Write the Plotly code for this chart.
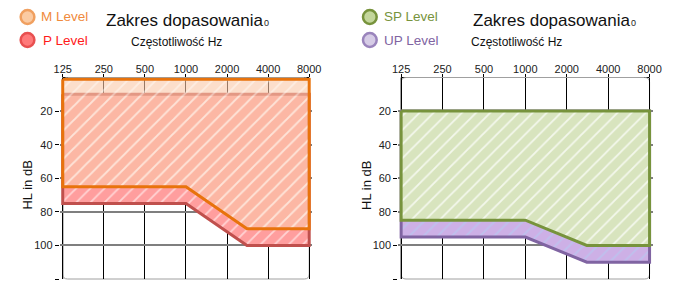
import math
import plotly.graph_objects as go

# ---------------- data ----------------
freq_ticks = [125, 250, 500, 1000, 2000, 4000, 8000]
freq_tick_labels = ["125", "250", "500", "1000", "2000", "4000", "8000"]
db_ticks = [20, 40, 60, 80, 100, 120]

band_freqs = [125, 1000, 2800, 8000]

m_top = 1
m_bottom = [65, 65, 90, 90]
p_top = 10
p_bottom = [75, 75, 100, 100]

sp_top = 20
sp_bottom = [85, 85, 100, 100]
up_top = 20
up_bottom = [95, 95, 110, 110]

title_text = "Zakres dopasowania"
title_suffix = "0"
x_title = "Częstotliwość Hz"
y_title = "HL in dB"

W, H = 684, 283
FONT = "Liberation Sans, Arial, sans-serif"


def poly(top, bottom):
    xs = [band_freqs[0], band_freqs[-1]] + band_freqs[::-1] + [band_freqs[0]]
    ys = [top, top] + bottom[::-1] + [top]
    return xs, ys


def px(x):
    return x / W


def py(y):
    return 1 - y / H


fig = go.Figure()

panels = [
    dict(x0=58, x1=310),
    dict(x0=404, x1=658),
]
top_px, bot_px = 77.5, 279

ext = 3  # px extension so outline is not clipped


def add_band(top, bottom, line_color, fill_bg, xa, ya, width=3, fg="white", fgop=0.55):
    xs, ys = poly(top, bottom)
    fig.add_trace(go.Scatter(
        x=xs, y=ys, xaxis=xa, yaxis=ya, mode="lines", fill="toself",
        fillcolor=fill_bg,
        fillpattern=dict(shape="/", fgcolor=fg, bgcolor=fill_bg, size=10,
                         solidity=0.18, fgopacity=fgop),
        line=dict(color=line_color, width=width),
        hoverinfo="skip", showlegend=False))


add_band(p_top, p_bottom, "#C0504D", "#FF9E9E", "x", "y")
add_band(m_top, m_bottom, "#E8730C", "rgba(250,200,168,0.6)", "x", "y", fgop=0.45)
add_band(up_top, up_bottom, "#8064A2", "#CDB0E6", "x2", "y2", fg="#B8C8F0", fgop=0.7)
add_band(sp_top, sp_bottom, "#77933C", "#D8E4BE", "x2", "y2", fgop=0.7)

layout = dict(
    width=W, height=H, margin=dict(l=0, r=0, t=0, b=0),
    paper_bgcolor="white", plot_bgcolor="white",
    font=dict(family=FONT, size=11, color="#222"),
    showlegend=False,
)

shapes = []
annotations = []
for i, p in enumerate(panels):
    suffix = "" if i == 0 else str(i + 1)
    ppo = (p["x1"] - p["x0"]) / math.log2(8000 / 125)
    dlog = ext / ppo * math.log10(2)
    layout["xaxis" + suffix] = dict(
        type="log",
        domain=[px(p["x0"] - ext), px(p["x1"] + ext)],
        range=[math.log10(125) - dlog, math.log10(8000) + dlog],
        side="top", tickvals=freq_ticks, ticktext=freq_tick_labels,
        ticks="outside", ticklen=3, tickcolor="#000",
        ticklabelstandoff=-4,
        showline=False, showgrid=True, gridcolor="#000", gridwidth=1,
        zeroline=False, tickfont=dict(size=11, color="#222"),
        anchor="y" + suffix, fixedrange=True,
    )
    layout["yaxis" + suffix] = dict(
        domain=[py(bot_px), py(top_px)],
        range=[120, 0], tickvals=db_ticks,
        ticks="outside", ticklen=4, tickcolor="#000",
        showline=False, showgrid=True, gridcolor="#7F7F7F", gridwidth=1.5,
        zeroline=False, tickfont=dict(size=11, color="#222"),
        anchor="x" + suffix, fixedrange=True,
    )
    shapes.append(dict(type="line", xref="paper", yref="paper",
                       x0=px(p["x0"]), x1=px(p["x1"]), y0=py(top_px), y1=py(top_px),
                       line=dict(color="#000", width=1), layer="below"))
    shapes.append(dict(type="line", xref="paper", yref="paper",
                       x0=px(p["x0"]), x1=px(p["x0"]), y0=py(top_px), y1=py(bot_px),
                       line=dict(color="#000", width=1), layer="below"))
    r = 5
    x0, x1, y0, y1 = p["x0"], p["x1"], top_px, bot_px
    path = (f"M {px(x0+r)} {py(y0)} L {px(x1-r)} {py(y0)} "
            f"Q {px(x1)} {py(y0)} {px(x1)} {py(y0+r)} L {px(x1)} {py(y1-r)} "
            f"Q {px(x1)} {py(y1)} {px(x1-r)} {py(y1)} L {px(x0+r)} {py(y1)} "
            f"Q {px(x0)} {py(y1)} {px(x0)} {py(y1-r)} L {px(x0)} {py(y0+r)} "
            f"Q {px(x0)} {py(y0)} {px(x0+r)} {py(y0)} Z")
    shapes.append(dict(type="path", xref="paper", yref="paper", path=path,
                       line=dict(color="#A0A0A0", width=1), layer="below"))

for tx, ytx_x, sx in [(100, 126, 262), (475, 473, 637)]:
    annotations.append(dict(x=px(tx), y=py(20), xref="paper", yref="paper",
                            text=title_text, showarrow=False, xanchor="left", yanchor="middle",
                            font=dict(size=17, color="#111", family=FONT)))
    annotations.append(dict(x=px(sx), y=py(23), xref="paper", yref="paper",
                            text=title_suffix, showarrow=False, xanchor="left", yanchor="middle",
                            font=dict(size=9, color="#222", family=FONT)))
    annotations.append(dict(x=px(ytx_x), y=py(42), xref="paper", yref="paper",
                            text=x_title, showarrow=False, xanchor="left", yanchor="middle",
                            font=dict(size=12, color="#111", family=FONT)))

for xx in [21, 368]:
    annotations.append(dict(x=px(xx), y=py(185), xref="paper", yref="paper",
                            text=y_title, showarrow=False, textangle=-90,
                            xanchor="center", yanchor="middle",
                            font=dict(size=13, color="#111", family=FONT)))

legend_items = [
    (22, 17, "M Level", "#F08A3C", "#FBCBA3", "#F0A060", 34),
    (22, 40, "P Level", "#FF1A1A", "#FF7A7A", "#E85050", 36),
    (372, 17, "SP Level", "#77933C", "#C3D69B", "#77933C", 384),
    (372, 40, "UP Level", "#8064A2", "#D6CCE6", "#9A84BC", 384),
]
for cx, cy, label, tcol, fcol, lcol, tx in legend_items:
    rr = 7
    shapes.append(dict(type="circle", xref="paper", yref="paper",
                       x0=px(cx - rr), x1=px(cx + rr), y0=py(cy + rr), y1=py(cy - rr),
                       fillcolor=fcol, line=dict(color=lcol, width=2.5)))
    annotations.append(dict(x=px(tx), y=py(cy), xref="paper", yref="paper",
                            text=label, showarrow=False, xanchor="left", yanchor="middle",
                            font=dict(size=13.5, color=tcol, family=FONT)))

layout["shapes"] = shapes
layout["annotations"] = annotations
fig.update_layout(**layout)

page_js = (
    "document.body.style.margin='0';"
    "document.body.style.overflow='hidden';"
)
fig.write_html("out.html", config={"displayModeBar": False}, post_script=page_js)
